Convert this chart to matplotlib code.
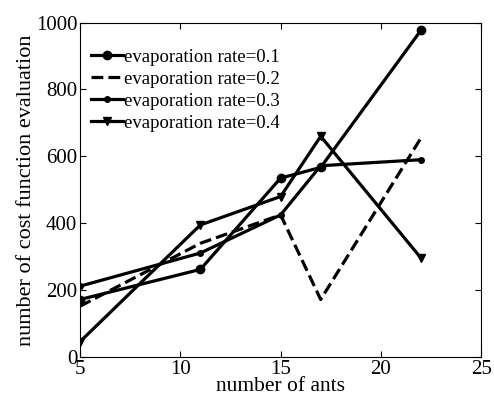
import matplotlib.pyplot as plt

plt.rcParams["font.family"] = ["Liberation Serif", "DejaVu Serif"]

ants = [5, 11, 15, 17, 22]
rate_01 = [172, 262, 535, 567, 977]
rate_02 = [152, 340, 425, 172, 655]
rate_03 = [212, 311, 425, 572, 590]
rate_04 = [46, 395, 480, 660, 296]
labels = ["evaporation rate=0.1", "evaporation rate=0.2",
          "evaporation rate=0.3", "evaporation rate=0.4"]

fig = plt.figure(figsize=(4.94, 4.03), dpi=100)
ax = fig.add_axes([0.162, 0.114, 0.812, 0.830])

ax.plot(ants, rate_01, "k-", lw=2.3, marker="o", ms=6, label=labels[0])
ax.plot(ants, rate_02, "k--", lw=2.3, label=labels[1])
ax.plot(ants, rate_03, "k-", lw=2.3, marker=".", ms=8, label=labels[2])
ax.plot(ants, rate_04, "k-", lw=2.3, marker="v", ms=6, label=labels[3])

ax.set_xlim(5, 25)
ax.set_ylim(0, 1000)
ax.set_xticks([5, 10, 15, 20, 25])
ax.set_yticks([0, 200, 400, 600, 800, 1000])
ax.tick_params(direction="in", top=True, right=True, length=4, labelsize=15, pad=2)
for s in ax.spines.values():
    s.set_linewidth(0.8)

ax.set_xlabel("number of ants", fontsize=15.5, labelpad=-1)
ax.set_ylabel("number of cost function evaluation", fontsize=16, labelpad=0)

ax.legend(loc="upper left", frameon=False, fontsize=13.5, handlelength=1.7,
          handletextpad=0.05, labelspacing=0.26, borderaxespad=0.2,
          bbox_to_anchor=(0.0, 0.955))

fig.savefig("out.png", dpi=100)
